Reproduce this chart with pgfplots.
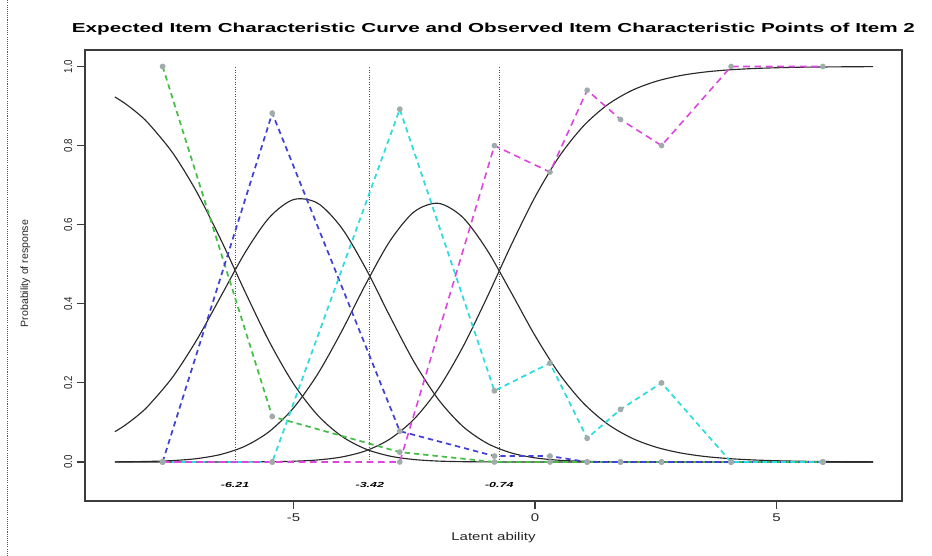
\documentclass[border=0pt]{standalone}
\usepackage{pgfplots}
\pgfplotsset{compat=1.18}
\usepackage{pgfplotstable}
\usepackage{fontspec}
\setmainfont{Liberation Sans}
\newfontfamily\titlefont[FakeStretch=1.59]{Liberation Sans}
\newfontfamily\hfont[FakeStretch=1.34]{Liberation Sans}
\newfontfamily\vfont[FakeStretch=0.85]{Liberation Sans}
\newfontfamily\lfont[FakeStretch=1.7]{Liberation Sans}

\definecolor{axisgray}{RGB}{60,60,60}
\definecolor{curve}{RGB}{40,40,40}
\definecolor{ggreen}{RGB}{70,190,70}
\definecolor{bblue}{RGB}{65,65,215}
\definecolor{ccyan}{RGB}{45,220,220}
\definecolor{mmag}{RGB}{220,70,220}
\definecolor{mkgray}{RGB}{160,172,172}

\pgfplotstableread{
t     p0     p1     p2     p3
-8.7  0.9231 0.0765 0.0004 0.0000
-8.5  0.9075 0.0919 0.0006 0.0000
-8.25 0.8841 0.1150 0.0009 0.0000
-8.0  0.8556 0.1429 0.0015 0.0000
-7.5  0.7813 0.2151 0.0036 0.0000
-7.0  0.6819 0.3095 0.0086 0.0000
-6.5  0.5609 0.4197 0.0193 0.0001
-6.0  0.4296 0.5300 0.0402 0.0002
-5.5  0.3039 0.6182 0.0772 0.0007
-5.0  0.1979 0.6635 0.1367 0.0019
-4.5  0.1183 0.6543 0.2222 0.0052
-4.0  0.0649 0.5913 0.3311 0.0127
-3.5  0.0325 0.4883 0.4507 0.0285
-3.0  0.0148 0.3675 0.5593 0.0584
-2.5  0.0062 0.2522 0.6328 0.1089
-2.0  0.0023 0.1581 0.6540 0.1855
-1.5  0.0008 0.0907 0.6190 0.2895
-1.0  0.0003 0.0478 0.5375 0.4144
-0.5  0.0001 0.0232 0.4300 0.5467
 0.0  0.0000 0.0105 0.3196 0.6699
 0.5  0.0000 0.0044 0.2234 0.7722
 1.0  0.0000 0.0018 0.1491 0.8491
 1.5  0.0000 0.0007 0.0962 0.9031
 2.0  0.0000 0.0003 0.0606 0.9391
 2.5  0.0000 0.0001 0.0377 0.9622
 3.0  0.0000 0.0000 0.0232 0.9768
 3.5  0.0000 0.0000 0.0142 0.9858
 4.0  0.0000 0.0000 0.0087 0.9913
 4.5  0.0000 0.0000 0.0053 0.9947
 5.0  0.0000 0.0000 0.0032 0.9968
 5.5  0.0000 0.0000 0.0019 0.9981
 6.0  0.0000 0.0000 0.0012 0.9988
 6.5  0.0000 0.0000 0.0007 0.9993
 7.0  0.0000 0.0000 0.0004 0.9996
}\expected

\pgfplotstableread{
x      g      b      c      m
-7.71  1.000  0.000  0.000  0.000
-5.44  0.115  0.882  0.000  0.000
-2.80  0.025  0.078  0.892  0.000
-0.84  0.000  0.015  0.180  0.800
 0.31  0.000  0.015  0.250  0.733
 1.08  0.000  0.000  0.060  0.940
 1.77  0.000  0.000  0.133  0.866
 2.62  0.000  0.000  0.200  0.800
 4.06  0.000  0.000  0.000  1.000
 5.96  0.000  0.000  0.000  1.000
}\observed

\begin{document}
\begin{tikzpicture}
\useasboundingbox (0,0) rectangle (699pt,417pt);
\draw[gray!70!black, line width=0.6pt, dash pattern=on 0.8pt off 0.8pt] (5.5pt,0) -- (5.5pt,417pt);
\begin{axis}[
  anchor=south west, at={(63.75pt,41.25pt)},
  scale only axis, width=612.75pt, height=338.25pt,
  xmin=-9.317, xmax=7.598, ymin=-0.0986, ymax=1.0417,
  xtick={-5,0,5}, xticklabels={-5,0,5},
  ytick={0,0.2,0.4,0.6,0.8,1}, yticklabels={0.0,0.2,0.4,0.6,0.8,1.0},
  tick align=outside, xtick pos=bottom, ytick pos=left,
  major tick length=6pt,
  axis line style={line width=0.9pt, color=axisgray},
  tick style={line width=0.8pt, color=axisgray},
  xticklabel style={font=\hfont\fontsize{8.4}{10}\selectfont, text=black!85},
  yticklabel style={font=\vfont\fontsize{8.6}{10}\selectfont, text=black!85, rotate=90, anchor=south},
  mymark/.style={mark=*, mark size=1.5pt, mark options={solid, draw=mkgray, fill=mkgray}},
]
\addplot[curve, line width=0.85pt, smooth] table[x=t, y=p0] {\expected};
\addplot[curve, line width=0.85pt, smooth] table[x=t, y=p1] {\expected};
\addplot[curve, line width=0.85pt, smooth] table[x=t, y=p2] {\expected};
\addplot[curve, line width=0.85pt, smooth] table[x=t, y=p3] {\expected};

\addplot[gray!60!black, line width=0.8pt, dash pattern=on 0.8pt off 1pt] coordinates {(-6.21,0) (-6.21,1)};
\addplot[gray!60!black, line width=0.8pt, dash pattern=on 0.8pt off 1pt] coordinates {(-3.42,0) (-3.42,1)};
\addplot[gray!60!black, line width=0.8pt, dash pattern=on 0.8pt off 1pt] coordinates {(-0.74,0) (-0.74,1)};

\addplot[ggreen, line width=1.3pt, dash pattern=on 4pt off 3pt, mymark] table[x=x, y=g] {\observed};
\addplot[bblue, line width=1.3pt, dash pattern=on 4pt off 3pt, mymark] table[x=x, y=b] {\observed};
\addplot[ccyan, line width=1.3pt, dash pattern=on 4pt off 3pt, mymark] table[x=x, y=c] {\observed};
\addplot[mmag, line width=1.2pt, dash pattern=on 5pt off 3.5pt, mymark] table[x=x, y=m] {\observed};

\node[font=\lfont\bfseries\itshape\fontsize{5.5}{6}\selectfont] at (axis cs:-6.21,-0.058) {-6.21};
\node[font=\lfont\bfseries\itshape\fontsize{5.5}{6}\selectfont] at (axis cs:-3.42,-0.058) {-3.42};
\node[font=\lfont\bfseries\itshape\fontsize{5.5}{6}\selectfont] at (axis cs:-0.74,-0.058) {-0.74};
\end{axis}
\node[anchor=base, font=\titlefont\bfseries\fontsize{9.75}{11}\selectfont] at (370.1pt,392.5pt) {Expected Item Characteristic Curve and Observed Item Characteristic Points of Item 2};
\node[anchor=base, font=\hfont\fontsize{8.4}{10}\selectfont, text=black!85] at (370.1pt,11.5pt) {Latent ability};
\node[anchor=base, rotate=90, font=\fontsize{7.9}{9}\selectfont, text=black!85] at (21pt,211.9pt) {Probability of response};
\end{tikzpicture}
\end{document}
